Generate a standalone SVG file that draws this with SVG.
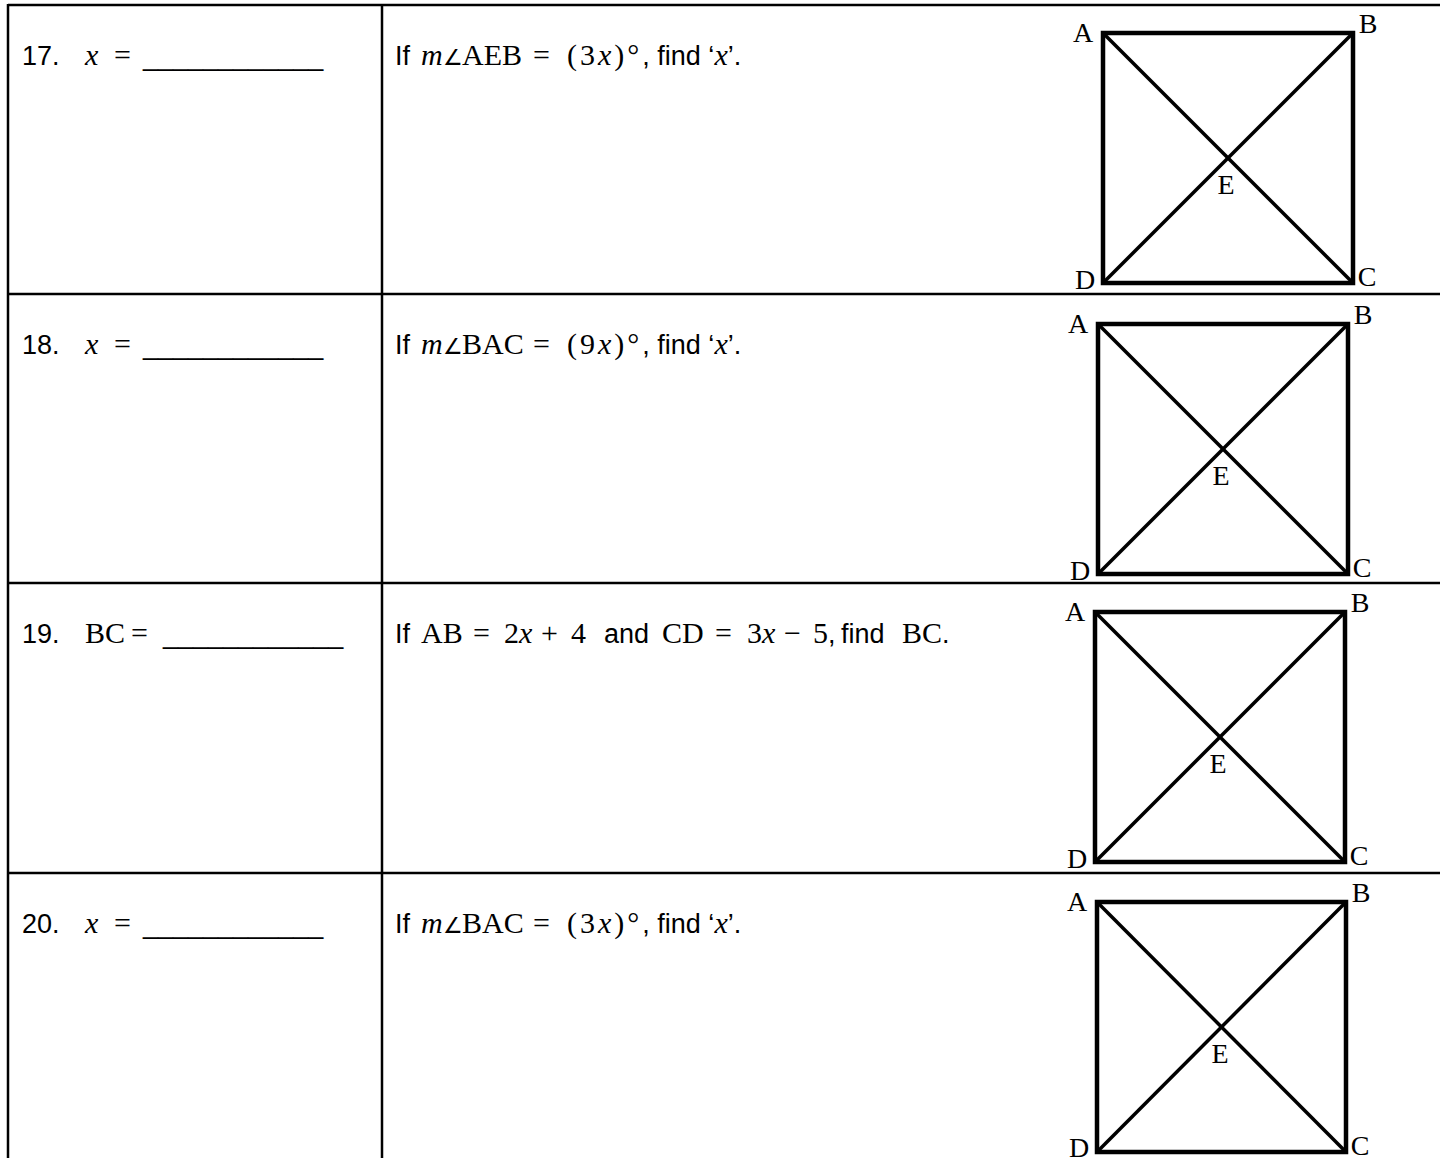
<svg xmlns="http://www.w3.org/2000/svg" width="1440" height="1158" viewBox="0 0 1440 1158">
<style>
.grid{stroke:#000;stroke-width:2.5;fill:none}
.sq{stroke:#000;stroke-width:4.5;fill:none;stroke-linejoin:miter}
.dg{stroke:#000;stroke-width:3.5}
.t{font-family:"Liberation Sans",Arial,sans-serif;font-size:27px;fill:#000}
.m{font-family:"Liberation Serif","Times New Roman",serif;font-size:30px;font-style:normal}
.mi{font-family:"Liberation Serif","Times New Roman",serif;font-size:30px;font-style:italic}
.ang{font-family:"DejaVu Sans",sans-serif;font-size:22px}
.ls{letter-spacing:3px}
.lb{font-family:"Liberation Serif","Times New Roman",serif;font-size:28px;fill:#000}
</style>
<rect width="1440" height="1158" fill="#fff"/>
<g id="table" class="grid">
<line x1="8" y1="5" x2="1440" y2="5"/>
<line x1="8" y1="294" x2="1440" y2="294"/>
<line x1="8" y1="583" x2="1440" y2="583"/>
<line x1="8" y1="873" x2="1440" y2="873"/>
<line x1="8" y1="4" x2="8" y2="1158"/>
<line x1="382" y1="4" x2="382" y2="1158"/>
</g>
<g id="row17">
<text class="t" y="65"><tspan x="22">17.</tspan><tspan class="mi" x="85">x</tspan><tspan class="m" x="114">=</tspan><tspan x="143">____________</tspan></text>
<text class="t" y="65"><tspan x="395">If</tspan><tspan class="mi" x="421">m</tspan><tspan class="ang" x="443">∠</tspan><tspan class="m" x="462">AEB</tspan><tspan class="m" x="533">=</tspan><tspan class="m ls" x="567">(3</tspan><tspan class="mi ls">x</tspan><tspan class="m ls">)°</tspan><tspan>, find ‘</tspan><tspan class="mi">x</tspan><tspan>’.</tspan></text>
</g>
<g id="row18">
<text class="t" y="354"><tspan x="22">18.</tspan><tspan class="mi" x="85">x</tspan><tspan class="m" x="114">=</tspan><tspan x="143">____________</tspan></text>
<text class="t" y="354"><tspan x="395">If</tspan><tspan class="mi" x="421">m</tspan><tspan class="ang" x="443">∠</tspan><tspan class="m" x="462">BAC</tspan><tspan class="m" x="533">=</tspan><tspan class="m ls" x="567">(9</tspan><tspan class="mi ls">x</tspan><tspan class="m ls">)°</tspan><tspan>, find ‘</tspan><tspan class="mi">x</tspan><tspan>’.</tspan></text>
</g>
<g id="row19">
<text class="t" y="643"><tspan x="22">19.</tspan><tspan class="m" x="85">BC</tspan><tspan class="m" x="131">=</tspan><tspan x="163">____________</tspan></text>
<text class="t" y="643"><tspan x="395">If</tspan><tspan class="m" x="421">AB</tspan><tspan class="m" x="473">=</tspan><tspan class="m" x="504">2</tspan><tspan class="mi">x</tspan><tspan class="m" x="541">+</tspan><tspan class="m" x="571">4</tspan><tspan x="604">and</tspan><tspan class="m" x="662">CD</tspan><tspan class="m" x="715">=</tspan><tspan class="m" x="747">3</tspan><tspan class="mi">x</tspan><tspan class="m" x="784">−</tspan><tspan class="m" x="813">5</tspan><tspan>,</tspan><tspan x="841">find</tspan><tspan class="m" x="902">BC</tspan><tspan>.</tspan></text>
</g>
<g id="row20">
<text class="t" y="933"><tspan x="22">20.</tspan><tspan class="mi" x="85">x</tspan><tspan class="m" x="114">=</tspan><tspan x="143">____________</tspan></text>
<text class="t" y="933"><tspan x="395">If</tspan><tspan class="mi" x="421">m</tspan><tspan class="ang" x="443">∠</tspan><tspan class="m" x="462">BAC</tspan><tspan class="m" x="533">=</tspan><tspan class="m ls" x="567">(3</tspan><tspan class="mi ls">x</tspan><tspan class="m ls">)°</tspan><tspan>, find ‘</tspan><tspan class="mi">x</tspan><tspan>’.</tspan></text>
</g>
<g id="square17">
<rect class="sq" x="1103" y="33" width="250" height="250"/>
<line class="dg" x1="1103" y1="33" x2="1353" y2="283"/>
<line class="dg" x1="1353" y1="33" x2="1103" y2="283"/>
<text class="lb" x="1083" y="42" text-anchor="middle">A</text>
<text class="lb" x="1368" y="33" text-anchor="middle">B</text>
<text class="lb" x="1226" y="194" text-anchor="middle">E</text>
<text class="lb" x="1085" y="289" text-anchor="middle">D</text>
<text class="lb" x="1367" y="286" text-anchor="middle">C</text>
</g>
<g id="square18">
<rect class="sq" x="1098" y="324" width="250" height="250"/>
<line class="dg" x1="1098" y1="324" x2="1348" y2="574"/>
<line class="dg" x1="1348" y1="324" x2="1098" y2="574"/>
<text class="lb" x="1078" y="333" text-anchor="middle">A</text>
<text class="lb" x="1363" y="324" text-anchor="middle">B</text>
<text class="lb" x="1221" y="485" text-anchor="middle">E</text>
<text class="lb" x="1080" y="580" text-anchor="middle">D</text>
<text class="lb" x="1362" y="577" text-anchor="middle">C</text>
</g>
<g id="square19">
<rect class="sq" x="1095" y="612" width="250" height="250"/>
<line class="dg" x1="1095" y1="612" x2="1345" y2="862"/>
<line class="dg" x1="1345" y1="612" x2="1095" y2="862"/>
<text class="lb" x="1075" y="621" text-anchor="middle">A</text>
<text class="lb" x="1360" y="612" text-anchor="middle">B</text>
<text class="lb" x="1218" y="773" text-anchor="middle">E</text>
<text class="lb" x="1077" y="868" text-anchor="middle">D</text>
<text class="lb" x="1359" y="865" text-anchor="middle">C</text>
</g>
<g id="square20">
<rect class="sq" x="1097" y="902" width="249" height="250"/>
<line class="dg" x1="1097" y1="902" x2="1346" y2="1152"/>
<line class="dg" x1="1346" y1="902" x2="1097" y2="1152"/>
<text class="lb" x="1077" y="911" text-anchor="middle">A</text>
<text class="lb" x="1361" y="902" text-anchor="middle">B</text>
<text class="lb" x="1220" y="1063" text-anchor="middle">E</text>
<text class="lb" x="1079" y="1157" text-anchor="middle">D</text>
<text class="lb" x="1360" y="1155" text-anchor="middle">C</text>
</g>
</svg>
